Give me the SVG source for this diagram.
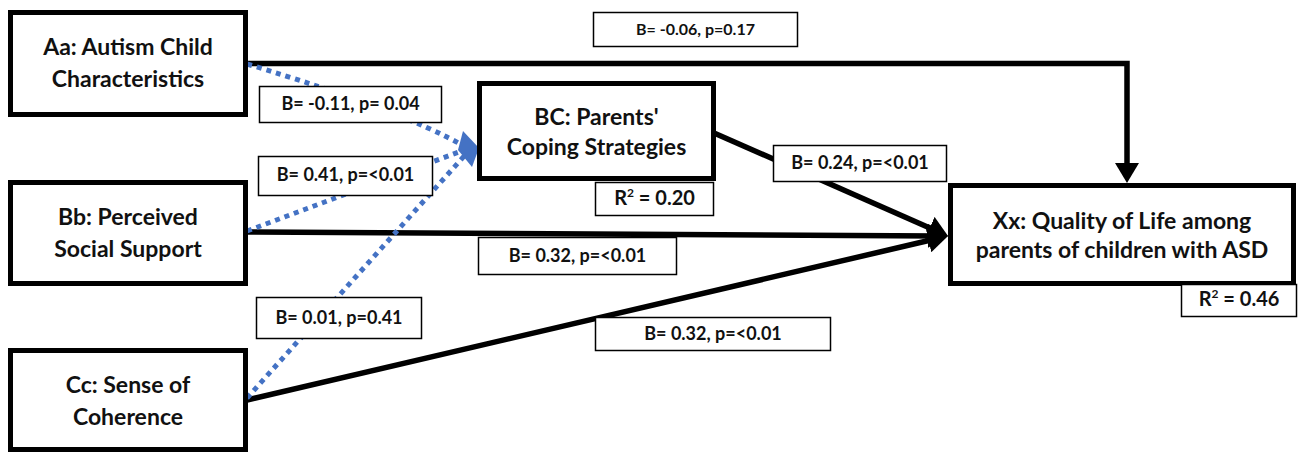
<svg xmlns="http://www.w3.org/2000/svg" width="1299" height="453" viewBox="0 0 1299 453">
<style>
.node{fill:#fff;stroke:#000;stroke-width:5}
.lbl{fill:#fff;stroke:#000;stroke-width:1.5}
.nt{font-family:Lato,"Liberation Sans",sans-serif;font-weight:bold;font-size:23px;fill:#111;text-anchor:middle}
.lt{font-family:Lato,"Liberation Sans",sans-serif;font-weight:bold;font-size:18px;fill:#111;text-anchor:middle}
.rt{font-family:Lato,"Liberation Sans",sans-serif;font-weight:bold;font-size:20px;fill:#111;text-anchor:middle}
.solid{fill:none;stroke:#000;stroke-width:5.5}
.dot{fill:none;stroke:#4472C4;stroke-width:5;stroke-dasharray:5 5}
</style>
<defs>
<marker id="ah" viewBox="0 0 20 24" refX="10" refY="12" markerWidth="20" markerHeight="24" markerUnits="userSpaceOnUse" orient="auto">
<path d="M0,0 L20,12 L0,24 Z" fill="#000"/>
</marker>
</defs>
<rect width="1299" height="453" fill="#fff"/>
<g id="connectors">
<path class="solid" d="M247,63.5 H1127 V173" marker-end="url(#ah)"/>
<path class="solid" d="M714,133 L938.9,231.9" marker-end="url(#ah)"/>
<path class="solid" d="M247,232 L938,235.9" marker-end="url(#ah)"/>
<path class="solid" d="M247,400 L938.3,238.3" marker-end="url(#ah)"/>
<path class="dot" d="M247,64 Q400,110 464,146"/>
<path class="dot" d="M247,231 L464,150"/>
<path class="dot" d="M247,398 L466,154"/>
<polygon points="463,131 479,148 472,167 458,150" fill="#4472C4"/>
</g>
<g id="label-aa-xx"><rect class="lbl" x="593.5" y="12.5" width="204" height="34"/><text class="lt" x="695.5" y="35" style="font-size:16px">B= -0.06, p=0.17</text></g>
<g id="label-aa-bc"><rect class="lbl" x="259.5" y="86.5" width="182" height="36"/><text class="lt" x="350.5" y="110">B= -0.11, p= 0.04</text></g>
<g id="label-bb-bc"><rect class="lbl" x="258.5" y="156.5" width="174" height="39"/><text class="lt" x="345.5" y="181">B= 0.41, p=&lt;0.01</text></g>
<g id="label-cc-bc"><rect class="lbl" x="256.5" y="297.5" width="165" height="41"/><text class="lt" x="339" y="324">B= 0.01, p=0.41</text></g>
<g id="label-bb-xx"><rect class="lbl" x="478.5" y="237.5" width="198" height="37"/><text class="lt" x="577.5" y="262">B= 0.32, p=&lt;0.01</text></g>
<g id="label-cc-xx"><rect class="lbl" x="595.5" y="317.5" width="235" height="33"/><text class="lt" x="713" y="340">B= 0.32, p=&lt;0.01</text></g>
<g id="label-bc-xx"><rect class="lbl" x="773.5" y="145.5" width="173" height="36"/><text class="lt" x="860" y="169">B= 0.24, p=&lt;0.01</text></g>
<g id="node-aa"><rect class="node" x="10.5" y="12.5" width="235" height="102"/><text class="nt" x="128" y="55">Aa: Autism Child</text><text class="nt" x="128" y="87">Characteristics</text></g>
<g id="node-bb"><rect class="node" x="10.5" y="182.5" width="235" height="101"/><text class="nt" x="128" y="225">Bb: Perceived</text><text class="nt" x="128" y="257">Social Support</text></g>
<g id="node-cc"><rect class="node" x="10.5" y="350.5" width="235" height="99"/><text class="nt" x="128" y="393">Cc: Sense of</text><text class="nt" x="128" y="425">Coherence</text></g>
<g id="node-bc"><rect class="node" x="479.5" y="83.5" width="234" height="95"/><text class="nt" x="596.5" y="125">BC: Parents'</text><text class="nt" x="596.5" y="155">Coping Strategies</text></g>
<g id="r2-bc"><rect class="lbl" x="595.5" y="182.5" width="118" height="33"/><text class="rt" x="654.5" y="205">R<tspan dy="-8" style="font-size:12px">2</tspan><tspan dy="8"> = 0.20</tspan></text></g>
<g id="node-xx"><rect class="node" x="950.5" y="185.5" width="343" height="98"/><text class="nt" x="1122" y="229">Xx: Quality of Life among</text><text class="nt" x="1122" y="258">parents of children with ASD</text></g>
<g id="r2-xx"><rect class="lbl" x="1181.5" y="284.5" width="115" height="32"/><text class="rt" x="1239" y="306">R<tspan dy="-8" style="font-size:12px">2</tspan><tspan dy="8"> = 0.46</tspan></text></g>
</svg>
